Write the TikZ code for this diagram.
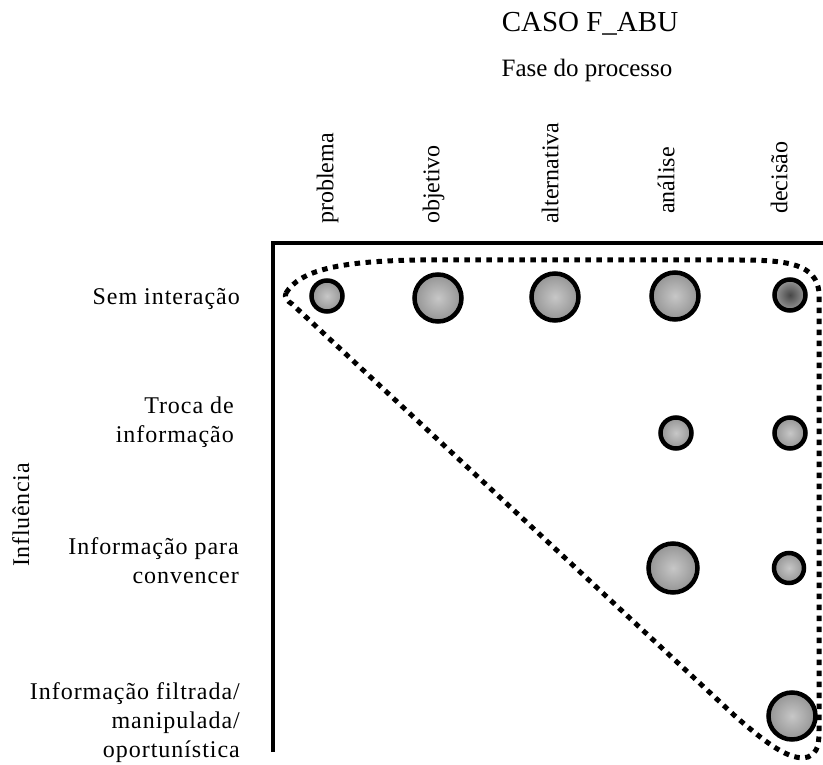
\documentclass[tikz,border=0pt]{standalone}
\usepackage{fontspec}
\setmainfont{Liberation Serif}
\begin{document}
\begin{tikzpicture}[x=1pt,y=-1pt,
  lbl/.style={font=\fontsize{24}{29}\selectfont, inner sep=0pt},
  rowlbl/.style={lbl, font=\fontsize{24}{29}\selectfont\addfontfeatures{LetterSpace=4},
    align=right, anchor=north east},
  collbl/.style={lbl, rotate=90, anchor=mid west},
  bub/.style={circle, draw=black, line width=4.5pt, inner sep=0pt,
    inner color=black!22, outer color=black!42},
  bubdark/.style={bub, inner color=black!72, outer color=black!40},
  small/.style={minimum size=31pt},
  big/.style={minimum size=47pt},
  axisline/.style={line width=4.8pt, line join=miter},
  dotline/.style={line width=5pt, dash pattern=on 5.5pt off 5.5pt}
]
\useasboundingbox (0,0) rectangle (823,765);

% titles
\node[lbl, font=\fontsize{29}{34}\selectfont, anchor=base] (title) at (590,32) {CASO F\_ABU};
\node[lbl, font=\fontsize{25}{30}\selectfont, anchor=base] (phase) at (587,77) {Fase do processo};

% column headers (process phases)
\node[collbl] (hprob) at (331,224) {problema};
\node[collbl] (hobj)  at (437,224) {objetivo};
\node[collbl] (halt)  at (556,224) {alternativa};
\node[collbl] (hana)  at (672,214) {análise};
\node[collbl] (hdec)  at (785,214) {decisão};

% row headers (influence)
\node[lbl, font=\fontsize{24}{29}\selectfont\addfontfeatures{LetterSpace=3},
  rotate=90, anchor=base west] (infl) at (29,567) {Influência};
\node[rowlbl] (rsem) at (240,288.6) {Sem interação};
\node[rowlbl] (rtroca) at (234,396.6) {Troca de\\informação};
\node[rowlbl] (rconv) at (239,537.6) {Informação para\\convencer};
\node[rowlbl] (rfilt) at (240,682.6) {Informação filtrada/\\manipulada/\\oportunística};

% axes
\draw[axisline] (273,752) -- (273,243) -- (823,243);

% enclosing dotted region
\draw[dotline] (286,293)
  .. controls (300,270) and (340,261) .. (420,260)
  -- (740,260)
  .. controls (790,260) and (816,265) .. (819,292)
  -- (819,730)
  .. controls (819,745) and (818,752) .. (808,757)
  .. controls (790,762) and (765,742) .. (735,716)
  -- (292,304)
  .. controls (287,301) and (284,297) .. (286,293) -- cycle;

% observations
\node[bub, small] (s1) at (327,296) {};
\node[bub, big]   (s2) at (438,298) {};
\node[bub, big]   (s3) at (555,297) {};
\node[bub, big]   (s4) at (675,296) {};
\node[bubdark, small] (s5) at (790,295) {};

\node[bub, small] (t4) at (676,433) {};
\node[bub, small] (t5) at (790,433) {};

\node[bub, big, minimum size=49pt] (c4) at (673,568) {};
\node[bub, small, minimum size=30pt] (c5) at (789,568) {};

\node[bub, big] (f5) at (792,716) {};
\end{tikzpicture}
\end{document}
